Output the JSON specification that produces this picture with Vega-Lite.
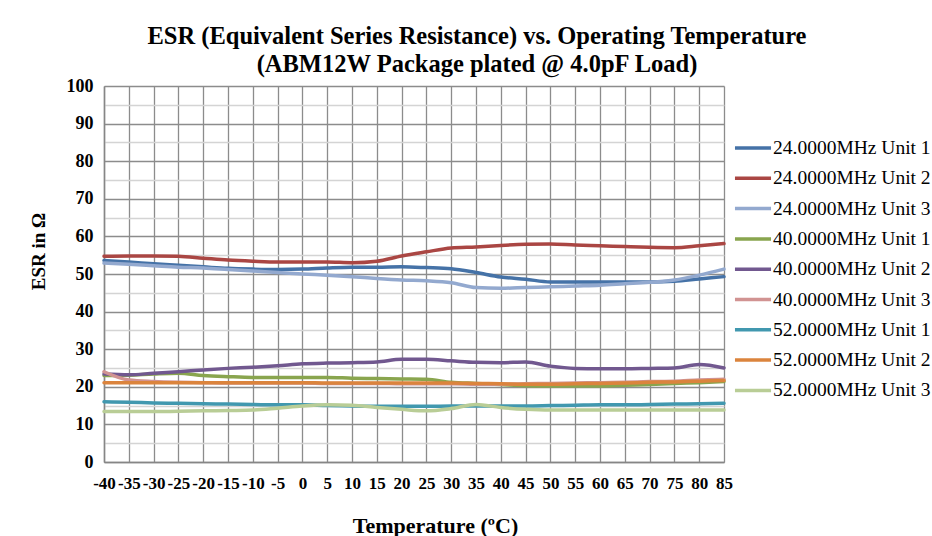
{
  "$schema": "https://vega.github.io/schema/vega-lite/v6.json",
  "width": 620,
  "height": 376,
  "autosize": {"type": "none"},
  "padding": {"left": 104, "top": 86, "right": 208, "bottom": 74},
  "background": "white",
  "config": {
    "view": {"stroke": null},
    "font": "Liberation Serif"
  },
  "title": {
    "text": ["ESR (Equivalent  Series Resistance) vs. Operating Temperature", "(ABM12W Package plated @ 4.0pF Load)"],
    "font": "Liberation Serif",
    "fontSize": 24.5,
    "fontWeight": "bold",
    "color": "black",
    "anchor": "middle",
    "dx": 63,
    "offset": 0,
    "lineHeight": 28
  },
  "data": {
    "values": [
      {"t": -40, "s": "24.0000MHz Unit 1", "v": 53.6}, {"t": -35, "s": "24.0000MHz Unit 1", "v": 53.2}, {"t": -30, "s": "24.0000MHz Unit 1", "v": 52.7}, {"t": -25, "s": "24.0000MHz Unit 1", "v": 52.3}, {"t": -20, "s": "24.0000MHz Unit 1", "v": 51.9}, {"t": -15, "s": "24.0000MHz Unit 1", "v": 51.5}, {"t": -10, "s": "24.0000MHz Unit 1", "v": 51.3}, {"t": -5, "s": "24.0000MHz Unit 1", "v": 51.2}, {"t": 0, "s": "24.0000MHz Unit 1", "v": 51.3}, {"t": 5, "s": "24.0000MHz Unit 1", "v": 51.6}, {"t": 10, "s": "24.0000MHz Unit 1", "v": 51.8}, {"t": 15, "s": "24.0000MHz Unit 1", "v": 51.8}, {"t": 20, "s": "24.0000MHz Unit 1", "v": 51.9}, {"t": 25, "s": "24.0000MHz Unit 1", "v": 51.7}, {"t": 30, "s": "24.0000MHz Unit 1", "v": 51.4}, {"t": 35, "s": "24.0000MHz Unit 1", "v": 50.4}, {"t": 40, "s": "24.0000MHz Unit 1", "v": 49.2}, {"t": 45, "s": "24.0000MHz Unit 1", "v": 48.6}, {"t": 50, "s": "24.0000MHz Unit 1", "v": 47.9}, {"t": 55, "s": "24.0000MHz Unit 1", "v": 47.9}, {"t": 60, "s": "24.0000MHz Unit 1", "v": 47.9}, {"t": 65, "s": "24.0000MHz Unit 1", "v": 47.9}, {"t": 70, "s": "24.0000MHz Unit 1", "v": 47.9}, {"t": 75, "s": "24.0000MHz Unit 1", "v": 48.1}, {"t": 80, "s": "24.0000MHz Unit 1", "v": 48.7}, {"t": 85, "s": "24.0000MHz Unit 1", "v": 49.3},
      {"t": -40, "s": "24.0000MHz Unit 2", "v": 54.7}, {"t": -35, "s": "24.0000MHz Unit 2", "v": 54.8}, {"t": -30, "s": "24.0000MHz Unit 2", "v": 54.8}, {"t": -25, "s": "24.0000MHz Unit 2", "v": 54.7}, {"t": -20, "s": "24.0000MHz Unit 2", "v": 54.2}, {"t": -15, "s": "24.0000MHz Unit 2", "v": 53.7}, {"t": -10, "s": "24.0000MHz Unit 2", "v": 53.4}, {"t": -5, "s": "24.0000MHz Unit 2", "v": 53.2}, {"t": 0, "s": "24.0000MHz Unit 2", "v": 53.2}, {"t": 5, "s": "24.0000MHz Unit 2", "v": 53.2}, {"t": 10, "s": "24.0000MHz Unit 2", "v": 53.0}, {"t": 15, "s": "24.0000MHz Unit 2", "v": 53.4}, {"t": 20, "s": "24.0000MHz Unit 2", "v": 54.8}, {"t": 25, "s": "24.0000MHz Unit 2", "v": 55.9}, {"t": 30, "s": "24.0000MHz Unit 2", "v": 56.9}, {"t": 35, "s": "24.0000MHz Unit 2", "v": 57.2}, {"t": 40, "s": "24.0000MHz Unit 2", "v": 57.6}, {"t": 45, "s": "24.0000MHz Unit 2", "v": 57.9}, {"t": 50, "s": "24.0000MHz Unit 2", "v": 58.0}, {"t": 55, "s": "24.0000MHz Unit 2", "v": 57.7}, {"t": 60, "s": "24.0000MHz Unit 2", "v": 57.5}, {"t": 65, "s": "24.0000MHz Unit 2", "v": 57.3}, {"t": 70, "s": "24.0000MHz Unit 2", "v": 57.1}, {"t": 75, "s": "24.0000MHz Unit 2", "v": 57.0}, {"t": 80, "s": "24.0000MHz Unit 2", "v": 57.5}, {"t": 85, "s": "24.0000MHz Unit 2", "v": 58.1},
      {"t": -40, "s": "24.0000MHz Unit 3", "v": 52.9}, {"t": -35, "s": "24.0000MHz Unit 3", "v": 52.6}, {"t": -30, "s": "24.0000MHz Unit 3", "v": 52.2}, {"t": -25, "s": "24.0000MHz Unit 3", "v": 51.8}, {"t": -20, "s": "24.0000MHz Unit 3", "v": 51.6}, {"t": -15, "s": "24.0000MHz Unit 3", "v": 51.2}, {"t": -10, "s": "24.0000MHz Unit 3", "v": 50.8}, {"t": -5, "s": "24.0000MHz Unit 3", "v": 50.4}, {"t": 0, "s": "24.0000MHz Unit 3", "v": 50.0}, {"t": 5, "s": "24.0000MHz Unit 3", "v": 49.7}, {"t": 10, "s": "24.0000MHz Unit 3", "v": 49.3}, {"t": 15, "s": "24.0000MHz Unit 3", "v": 48.8}, {"t": 20, "s": "24.0000MHz Unit 3", "v": 48.4}, {"t": 25, "s": "24.0000MHz Unit 3", "v": 48.2}, {"t": 30, "s": "24.0000MHz Unit 3", "v": 47.7}, {"t": 35, "s": "24.0000MHz Unit 3", "v": 46.4}, {"t": 40, "s": "24.0000MHz Unit 3", "v": 46.2}, {"t": 45, "s": "24.0000MHz Unit 3", "v": 46.4}, {"t": 50, "s": "24.0000MHz Unit 3", "v": 46.6}, {"t": 55, "s": "24.0000MHz Unit 3", "v": 46.8}, {"t": 60, "s": "24.0000MHz Unit 3", "v": 47.0}, {"t": 65, "s": "24.0000MHz Unit 3", "v": 47.4}, {"t": 70, "s": "24.0000MHz Unit 3", "v": 47.8}, {"t": 75, "s": "24.0000MHz Unit 3", "v": 48.4}, {"t": 80, "s": "24.0000MHz Unit 3", "v": 49.7}, {"t": 85, "s": "24.0000MHz Unit 3", "v": 51.3},
      {"t": -40, "s": "40.0000MHz Unit 1", "v": 23.0}, {"t": -35, "s": "40.0000MHz Unit 1", "v": 23.1}, {"t": -30, "s": "40.0000MHz Unit 1", "v": 23.4}, {"t": -25, "s": "40.0000MHz Unit 1", "v": 23.6}, {"t": -20, "s": "40.0000MHz Unit 1", "v": 23.0}, {"t": -15, "s": "40.0000MHz Unit 1", "v": 22.7}, {"t": -10, "s": "40.0000MHz Unit 1", "v": 22.5}, {"t": -5, "s": "40.0000MHz Unit 1", "v": 22.5}, {"t": 0, "s": "40.0000MHz Unit 1", "v": 22.5}, {"t": 5, "s": "40.0000MHz Unit 1", "v": 22.5}, {"t": 10, "s": "40.0000MHz Unit 1", "v": 22.3}, {"t": 15, "s": "40.0000MHz Unit 1", "v": 22.2}, {"t": 20, "s": "40.0000MHz Unit 1", "v": 22.1}, {"t": 25, "s": "40.0000MHz Unit 1", "v": 22.0}, {"t": 30, "s": "40.0000MHz Unit 1", "v": 21.2}, {"t": 35, "s": "40.0000MHz Unit 1", "v": 20.9}, {"t": 40, "s": "40.0000MHz Unit 1", "v": 20.6}, {"t": 45, "s": "40.0000MHz Unit 1", "v": 20.3}, {"t": 50, "s": "40.0000MHz Unit 1", "v": 20.2}, {"t": 55, "s": "40.0000MHz Unit 1", "v": 20.2}, {"t": 60, "s": "40.0000MHz Unit 1", "v": 20.2}, {"t": 65, "s": "40.0000MHz Unit 1", "v": 20.4}, {"t": 70, "s": "40.0000MHz Unit 1", "v": 20.6}, {"t": 75, "s": "40.0000MHz Unit 1", "v": 20.9}, {"t": 80, "s": "40.0000MHz Unit 1", "v": 21.1}, {"t": 85, "s": "40.0000MHz Unit 1", "v": 21.4},
      {"t": -40, "s": "40.0000MHz Unit 2", "v": 23.4}, {"t": -35, "s": "40.0000MHz Unit 2", "v": 23.2}, {"t": -30, "s": "40.0000MHz Unit 2", "v": 23.6}, {"t": -25, "s": "40.0000MHz Unit 2", "v": 24.0}, {"t": -20, "s": "40.0000MHz Unit 2", "v": 24.5}, {"t": -15, "s": "40.0000MHz Unit 2", "v": 24.9}, {"t": -10, "s": "40.0000MHz Unit 2", "v": 25.2}, {"t": -5, "s": "40.0000MHz Unit 2", "v": 25.6}, {"t": 0, "s": "40.0000MHz Unit 2", "v": 26.1}, {"t": 5, "s": "40.0000MHz Unit 2", "v": 26.3}, {"t": 10, "s": "40.0000MHz Unit 2", "v": 26.4}, {"t": 15, "s": "40.0000MHz Unit 2", "v": 26.6}, {"t": 20, "s": "40.0000MHz Unit 2", "v": 27.3}, {"t": 25, "s": "40.0000MHz Unit 2", "v": 27.3}, {"t": 30, "s": "40.0000MHz Unit 2", "v": 26.9}, {"t": 35, "s": "40.0000MHz Unit 2", "v": 26.5}, {"t": 40, "s": "40.0000MHz Unit 2", "v": 26.4}, {"t": 45, "s": "40.0000MHz Unit 2", "v": 26.6}, {"t": 50, "s": "40.0000MHz Unit 2", "v": 25.5}, {"t": 55, "s": "40.0000MHz Unit 2", "v": 24.9}, {"t": 60, "s": "40.0000MHz Unit 2", "v": 24.8}, {"t": 65, "s": "40.0000MHz Unit 2", "v": 24.8}, {"t": 70, "s": "40.0000MHz Unit 2", "v": 24.9}, {"t": 75, "s": "40.0000MHz Unit 2", "v": 25.0}, {"t": 80, "s": "40.0000MHz Unit 2", "v": 25.9}, {"t": 85, "s": "40.0000MHz Unit 2", "v": 25.0},
      {"t": -40, "s": "40.0000MHz Unit 3", "v": 24.0}, {"t": -35, "s": "40.0000MHz Unit 3", "v": 21.8}, {"t": -30, "s": "40.0000MHz Unit 3", "v": 21.4}, {"t": -25, "s": "40.0000MHz Unit 3", "v": 21.2}, {"t": -20, "s": "40.0000MHz Unit 3", "v": 21.1}, {"t": -15, "s": "40.0000MHz Unit 3", "v": 21.0}, {"t": -10, "s": "40.0000MHz Unit 3", "v": 21.0}, {"t": -5, "s": "40.0000MHz Unit 3", "v": 21.0}, {"t": 0, "s": "40.0000MHz Unit 3", "v": 21.0}, {"t": 5, "s": "40.0000MHz Unit 3", "v": 20.9}, {"t": 10, "s": "40.0000MHz Unit 3", "v": 20.9}, {"t": 15, "s": "40.0000MHz Unit 3", "v": 20.9}, {"t": 20, "s": "40.0000MHz Unit 3", "v": 20.8}, {"t": 25, "s": "40.0000MHz Unit 3", "v": 20.8}, {"t": 30, "s": "40.0000MHz Unit 3", "v": 20.8}, {"t": 35, "s": "40.0000MHz Unit 3", "v": 20.7}, {"t": 40, "s": "40.0000MHz Unit 3", "v": 20.7}, {"t": 45, "s": "40.0000MHz Unit 3", "v": 20.8}, {"t": 50, "s": "40.0000MHz Unit 3", "v": 20.9}, {"t": 55, "s": "40.0000MHz Unit 3", "v": 21.0}, {"t": 60, "s": "40.0000MHz Unit 3", "v": 21.1}, {"t": 65, "s": "40.0000MHz Unit 3", "v": 21.2}, {"t": 70, "s": "40.0000MHz Unit 3", "v": 21.4}, {"t": 75, "s": "40.0000MHz Unit 3", "v": 21.5}, {"t": 80, "s": "40.0000MHz Unit 3", "v": 21.8}, {"t": 85, "s": "40.0000MHz Unit 3", "v": 22.0},
      {"t": -40, "s": "52.0000MHz Unit 1", "v": 16.0}, {"t": -35, "s": "52.0000MHz Unit 1", "v": 15.9}, {"t": -30, "s": "52.0000MHz Unit 1", "v": 15.7}, {"t": -25, "s": "52.0000MHz Unit 1", "v": 15.6}, {"t": -20, "s": "52.0000MHz Unit 1", "v": 15.5}, {"t": -15, "s": "52.0000MHz Unit 1", "v": 15.4}, {"t": -10, "s": "52.0000MHz Unit 1", "v": 15.3}, {"t": -5, "s": "52.0000MHz Unit 1", "v": 15.2}, {"t": 0, "s": "52.0000MHz Unit 1", "v": 15.2}, {"t": 5, "s": "52.0000MHz Unit 1", "v": 15.0}, {"t": 10, "s": "52.0000MHz Unit 1", "v": 14.9}, {"t": 15, "s": "52.0000MHz Unit 1", "v": 14.8}, {"t": 20, "s": "52.0000MHz Unit 1", "v": 14.8}, {"t": 25, "s": "52.0000MHz Unit 1", "v": 14.8}, {"t": 30, "s": "52.0000MHz Unit 1", "v": 14.9}, {"t": 35, "s": "52.0000MHz Unit 1", "v": 14.9}, {"t": 40, "s": "52.0000MHz Unit 1", "v": 14.9}, {"t": 45, "s": "52.0000MHz Unit 1", "v": 14.9}, {"t": 50, "s": "52.0000MHz Unit 1", "v": 15.0}, {"t": 55, "s": "52.0000MHz Unit 1", "v": 15.1}, {"t": 60, "s": "52.0000MHz Unit 1", "v": 15.2}, {"t": 65, "s": "52.0000MHz Unit 1", "v": 15.2}, {"t": 70, "s": "52.0000MHz Unit 1", "v": 15.3}, {"t": 75, "s": "52.0000MHz Unit 1", "v": 15.4}, {"t": 80, "s": "52.0000MHz Unit 1", "v": 15.5}, {"t": 85, "s": "52.0000MHz Unit 1", "v": 15.6},
      {"t": -40, "s": "52.0000MHz Unit 2", "v": 21.1}, {"t": -35, "s": "52.0000MHz Unit 2", "v": 21.1}, {"t": -30, "s": "52.0000MHz Unit 2", "v": 21.1}, {"t": -25, "s": "52.0000MHz Unit 2", "v": 21.1}, {"t": -20, "s": "52.0000MHz Unit 2", "v": 21.1}, {"t": -15, "s": "52.0000MHz Unit 2", "v": 21.1}, {"t": -10, "s": "52.0000MHz Unit 2", "v": 21.1}, {"t": -5, "s": "52.0000MHz Unit 2", "v": 21.1}, {"t": 0, "s": "52.0000MHz Unit 2", "v": 21.1}, {"t": 5, "s": "52.0000MHz Unit 2", "v": 21.0}, {"t": 10, "s": "52.0000MHz Unit 2", "v": 21.0}, {"t": 15, "s": "52.0000MHz Unit 2", "v": 21.0}, {"t": 20, "s": "52.0000MHz Unit 2", "v": 21.0}, {"t": 25, "s": "52.0000MHz Unit 2", "v": 21.0}, {"t": 30, "s": "52.0000MHz Unit 2", "v": 21.0}, {"t": 35, "s": "52.0000MHz Unit 2", "v": 20.9}, {"t": 40, "s": "52.0000MHz Unit 2", "v": 20.8}, {"t": 45, "s": "52.0000MHz Unit 2", "v": 20.7}, {"t": 50, "s": "52.0000MHz Unit 2", "v": 20.7}, {"t": 55, "s": "52.0000MHz Unit 2", "v": 20.8}, {"t": 60, "s": "52.0000MHz Unit 2", "v": 20.9}, {"t": 65, "s": "52.0000MHz Unit 2", "v": 21.0}, {"t": 70, "s": "52.0000MHz Unit 2", "v": 21.2}, {"t": 75, "s": "52.0000MHz Unit 2", "v": 21.3}, {"t": 80, "s": "52.0000MHz Unit 2", "v": 21.5}, {"t": 85, "s": "52.0000MHz Unit 2", "v": 21.7},
      {"t": -40, "s": "52.0000MHz Unit 3", "v": 13.4}, {"t": -35, "s": "52.0000MHz Unit 3", "v": 13.4}, {"t": -30, "s": "52.0000MHz Unit 3", "v": 13.4}, {"t": -25, "s": "52.0000MHz Unit 3", "v": 13.5}, {"t": -20, "s": "52.0000MHz Unit 3", "v": 13.6}, {"t": -15, "s": "52.0000MHz Unit 3", "v": 13.7}, {"t": -10, "s": "52.0000MHz Unit 3", "v": 13.8}, {"t": -5, "s": "52.0000MHz Unit 3", "v": 14.3}, {"t": 0, "s": "52.0000MHz Unit 3", "v": 14.9}, {"t": 5, "s": "52.0000MHz Unit 3", "v": 15.2}, {"t": 10, "s": "52.0000MHz Unit 3", "v": 15.1}, {"t": 15, "s": "52.0000MHz Unit 3", "v": 14.5}, {"t": 20, "s": "52.0000MHz Unit 3", "v": 14.0}, {"t": 25, "s": "52.0000MHz Unit 3", "v": 13.6}, {"t": 30, "s": "52.0000MHz Unit 3", "v": 14.2}, {"t": 35, "s": "52.0000MHz Unit 3", "v": 15.3}, {"t": 40, "s": "52.0000MHz Unit 3", "v": 14.5}, {"t": 45, "s": "52.0000MHz Unit 3", "v": 14.0}, {"t": 50, "s": "52.0000MHz Unit 3", "v": 13.8}, {"t": 55, "s": "52.0000MHz Unit 3", "v": 13.8}, {"t": 60, "s": "52.0000MHz Unit 3", "v": 13.8}, {"t": 65, "s": "52.0000MHz Unit 3", "v": 13.8}, {"t": 70, "s": "52.0000MHz Unit 3", "v": 13.8}, {"t": 75, "s": "52.0000MHz Unit 3", "v": 13.8}, {"t": 80, "s": "52.0000MHz Unit 3", "v": 13.8}, {"t": 85, "s": "52.0000MHz Unit 3", "v": 13.8}
    ]
  },
  "mark": {"type": "line", "interpolate": "monotone", "strokeWidth": 3.5, "strokeCap": "round"},
  "encoding": {
    "x": {
      "field": "t",
      "type": "quantitative",
      "scale": {"domain": [-40, 85], "nice": false, "zero": false},
      "axis": {
        "values": [-40, -35, -30, -25, -20, -15, -10, -5, 0, 5, 10, 15, 20, 25, 30, 35, 40, 45, 50, 55, 60, 65, 70, 75, 80, 85],
        "labelExpr": "toString(datum.value)",
        "title": "Temperature (ºC)",
        "titleFont": "Liberation Serif",
        "titleFontSize": 22,
        "titleFontWeight": "bold",
        "titleColor": "black",
        "titleBaseline": "middle",
        "titleX": 331,
        "titleY": 63,
        "labelFont": "Liberation Serif",
        "labelFontSize": 17,
        "labelFontWeight": "bold",
        "labelColor": "black",
        "labelOverlap": false,
        "labelBound": false,
        "labelFlush": false,
        "labelPadding": 13,
        "labelDx": -3,
        "ticks": false,
        "domainColor": "#868686",
        "domainWidth": 1.5,
        "grid": true,
        "gridColor": "#8c8c8c",
        "gridWidth": 1.3
      }
    },
    "y": {
      "field": "v",
      "type": "quantitative",
      "scale": {"domain": [0, 100], "nice": false},
      "axis": {
        "values": [0, 5, 10, 15, 20, 25, 30, 35, 40, 45, 50, 55, 60, 65, 70, 75, 80, 85, 90, 95, 100],
        "labelExpr": "datum.value % 10 === 0 ? datum.label : ''",
        "title": "ESR in Ω",
        "titleFont": "Liberation Serif",
        "titleFontSize": 19,
        "titleFontWeight": "bold",
        "titleColor": "black",
        "titleX": -66,
        "titleY": 165,
        "titleBaseline": "middle",
        "titleAngle": -90,
        "labelFont": "Liberation Serif",
        "labelFontSize": 18,
        "labelFontWeight": "bold",
        "labelColor": "black",
        "labelPadding": 11,
        "ticks": false,
        "domainColor": "#868686",
        "domainWidth": 1.5,
        "grid": true,
        "gridColor": {"condition": {"test": "datum.value % 10 !== 0", "value": "#d4d4d4"}, "value": "#8c8c8c"},
        "gridWidth": 1.3
      }
    },
    "color": {
      "field": "s",
      "type": "nominal",
      "scale": {
        "domain": ["24.0000MHz Unit 1", "24.0000MHz Unit 2", "24.0000MHz Unit 3", "40.0000MHz Unit 1", "40.0000MHz Unit 2", "40.0000MHz Unit 3", "52.0000MHz Unit 1", "52.0000MHz Unit 2", "52.0000MHz Unit 3"],
        "range": ["#4572A7", "#AA4643", "#93A9CF", "#89A54E", "#71588F", "#D19392", "#4198AF", "#DB843D", "#B9CD96"]
      },
      "legend": {
        "title": null,
        "orient": "none",
        "legendX": 629,
        "legendY": 42,
        "symbolType": "stroke",
        "symbolSize": 1300,
        "symbolStrokeWidth": 3.5,
        "labelFont": "Liberation Serif",
        "labelFontSize": 19.5,
        "labelColor": "black",
        "labelOffset": 0,
        "rowPadding": 0.3,
        "labelLimit": 300
      }
    }
  }
}
